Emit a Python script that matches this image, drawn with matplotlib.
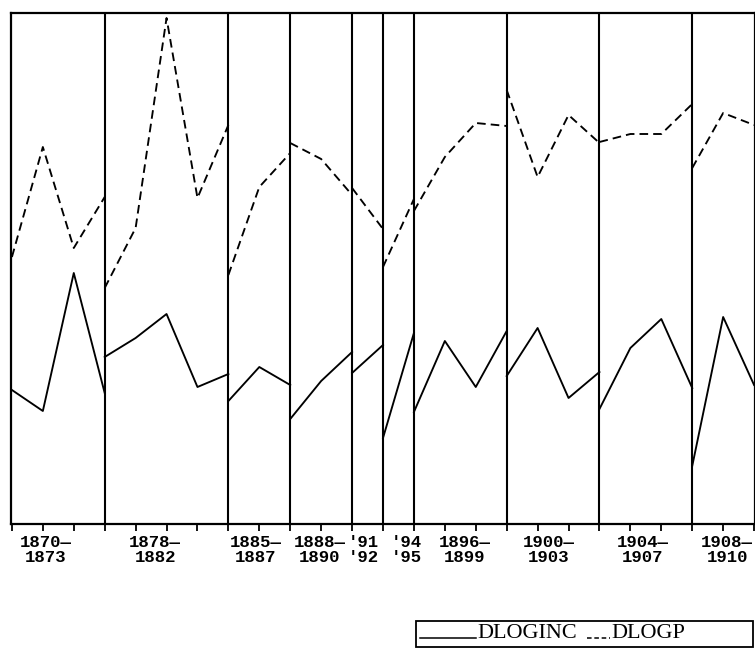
import matplotlib
matplotlib.use("Agg")
import matplotlib.pyplot as plt
from matplotlib.patches import Rectangle
from matplotlib.lines import Line2D
import numpy as np

# Sub-periods and their yearly observations
period_labels = ["1870\u2014\n1873", "1878\u2014\n1882", "1885\u2014\n1887",
                 "1888\u2014\n1890", "'91\n'92", "'94\n'95", "1896\u2014\n1899",
                 "1900\u2014\n1903", "1904\u2014\n1907", "1908\u2014\n1910"]

dloginc = [
    [1.34, 1.13, 2.51, 1.31],
    [1.67, 1.86, 2.10, 1.37, 1.50],
    [1.23, 1.57, 1.39],
    [1.05, 1.43, 1.72],
    [1.51, 1.79],
    [0.86, 1.91],
    [1.12, 1.83, 1.37, 1.93],
    [1.48, 1.96, 1.26, 1.52],
    [1.15, 1.76, 2.05, 1.36],
    [0.58, 2.07, 1.39],
]

dlogp = [
    [2.67, 3.77, 2.76, 3.27],
    [2.36, 2.96, 5.06, 3.26, 3.99],
    [2.49, 3.37, 3.71],
    [3.81, 3.65, 3.29],
    [3.36, 2.95],
    [2.57, 3.25],
    [3.13, 3.67, 4.01, 3.98],
    [4.34, 3.47, 4.09, 3.81],
    [3.82, 3.90, 3.90, 4.20],
    [3.56, 4.11, 3.99],
]

# horizontal placement of the period captions (in observation-index units)
label_pos = [1.10, 4.63, 7.89, 9.96, 11.36, 12.75, 14.65, 17.37, 20.41, 23.13]

W, H = 755, 656
fig = plt.figure(figsize=(W / 100, H / 100), dpi=100)
ax = fig.add_axes([11 / W, 1 - 524 / H, (755 - 11) / W, (524 - 13) / H])

# consecutive periods share their boundary position on the index axis
starts = np.concatenate([[0], np.cumsum([len(s) - 1 for s in dloginc])])
for i, (inc, p) in enumerate(zip(dloginc, dlogp)):
    x = np.arange(starts[i], starts[i] + len(inc))
    ax.plot(x, inc, color="black", lw=1.35)
    ax.plot(x, p, color="black", lw=1.35, linestyle=(0, (4.6, 2.7)))

for b in starts[1:-1]:
    ax.axvline(b, color="black", lw=1.5)

n_last = starts[-1]
ax.set_xlim(-0.03, n_last + 0.03)
ax.set_ylim(0, 5.11)
ax.set_xticks(np.arange(0, n_last + 1))
ax.set_xticklabels([])
ax.set_yticks([])
ax.tick_params(axis="x", direction="out", length=5, width=1.3, color="black")
for sp in ax.spines.values():
    sp.set_linewidth(1.6)
    sp.set_color("black")

for lab, xp in zip(period_labels, label_pos):
    ax.text(xp, -0.022, lab, transform=ax.get_xaxis_transform(),
            ha="center", va="top", multialignment="center",
            family="Liberation Mono", fontweight="bold", fontsize=12.5,
            linespacing=1.0, color="black")

# legend box
def fx(px):
    return px / W

def fy(py):
    return 1 - py / H

fig.patches.append(Rectangle((fx(416), fy(647)), fx(753) - fx(416), fy(621) - fy(647),
                             transform=fig.transFigure, fill=False,
                             edgecolor="black", lw=1.3))
fig.lines.append(Line2D([fx(420), fx(476)], [fy(638), fy(638)],
                        transform=fig.transFigure, color="black", lw=1.1))
fig.lines.append(Line2D([fx(587), fx(610)], [fy(638), fy(638)],
                        transform=fig.transFigure, color="black", lw=1.1,
                        linestyle=(0, (3, 1.8))))
fig.text(fx(477), fy(638.5), "DLOGINC", family="Liberation Serif",
         fontsize=16, va="baseline", ha="left")
fig.text(fx(611), fy(638.5), "DLOGP", family="Liberation Serif",
         fontsize=16, va="baseline", ha="left")

fig.savefig("out.png", dpi=100, facecolor="white")
